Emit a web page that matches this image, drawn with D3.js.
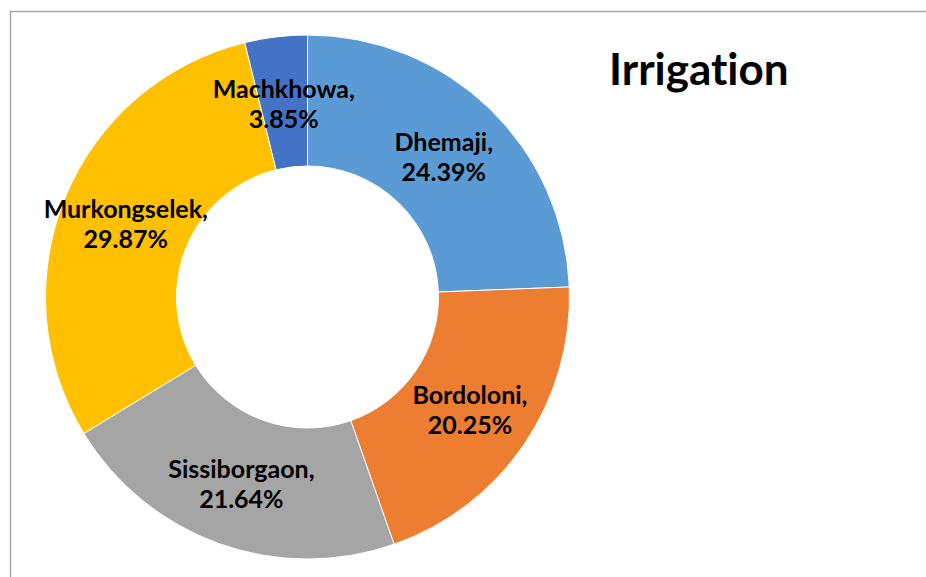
<!DOCTYPE html>
<html>
<head>
<meta charset="utf-8">
<script src="https://cdn.jsdelivr.net/npm/d3@7"></script>
<style>
  body { margin: 0; background: #fff; }
  svg { display: block; }
  text { font-variant-ligatures: none; }
</style>
</head>
<body>
<svg id="chart"></svg>
<script>
// data
var districts = ["Dhemaji", "Bordoloni", "Sissiborgaon", "Murkongselek", "Machkhowa"];
var shares = [24.39, 20.25, 21.64, 29.87, 3.85];
var sliceColors = ["#5B9BD5", "#ED7D31", "#A5A5A5", "#FFC000", "#4472C4"];
var chartTitle = "Irrigation";

var width = 926, height = 577;
var cx = 307.5, cy = 297, outerR = 262, innerR = 131;

var svg = d3.select("#chart")
    .attr("width", width)
    .attr("height", height);

// chart frame (left + top edges visible)
svg.append("path")
    .attr("d", "M10.5,577 V11.5 H926")
    .attr("fill", "none")
    .attr("stroke", "#A6A6A6")
    .attr("stroke-width", 1.5);

var pie = d3.pie().sort(null).value(function (d) { return d; });
var arc = d3.arc().innerRadius(innerR).outerRadius(outerR);
var labelArc = d3.arc().innerRadius((innerR + outerR) / 2).outerRadius((innerR + outerR) / 2);

var g = svg.append("g")
    .attr("transform", "translate(" + cx + "," + cy + ")");

var arcs = pie(shares);

g.selectAll("path.slice")
    .data(arcs)
    .enter().append("path")
    .attr("class", "slice")
    .attr("d", arc)
    .attr("fill", function (d, i) { return sliceColors[i]; })
    .attr("stroke", "#fff")
    .attr("stroke-width", 1);

var labels = g.selectAll("text.lbl")
    .data(arcs)
    .enter().append("text")
    .attr("class", "lbl")
    .attr("transform", function (d) { return "translate(" + labelArc.centroid(d) + ")"; })
    .attr("text-anchor", "middle")
    .attr("font-family", "Lato, 'Open Sans', sans-serif")
    .attr("font-weight", "bold")
    .attr("font-size", 25)
    .attr("fill", "#000");

labels.append("tspan")
    .attr("x", 0)
    .attr("dy", -4)
    .text(function (d, i) { return districts[i] + ","; });

labels.append("tspan")
    .attr("x", 0)
    .attr("dy", 30)
    .text(function (d) { return d.data.toFixed(2) + "%"; });

svg.append("text")
    .attr("x", 609)
    .attr("y", 85)
    .attr("font-family", "Lato, 'Open Sans', sans-serif")
    .attr("font-weight", "bold")
    .attr("font-size", 44)
    .attr("fill", "#000")
    .text(chartTitle);
</script>
</body>
</html>
